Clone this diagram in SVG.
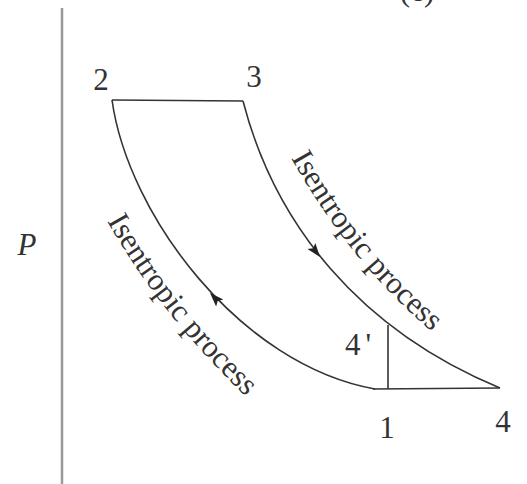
<svg xmlns="http://www.w3.org/2000/svg" xmlns:xlink="http://www.w3.org/1999/xlink" width="527" height="484" viewBox="0 0 527 484">
<style>
.ln{fill:none;stroke:#333;stroke-width:1.6}
.ax{fill:none;stroke:#999;stroke-width:2.5}
.lb{font-family:"Liberation Serif","Times New Roman",serif;font-size:31px;fill:#333}
.ah{fill:#222;stroke:none}
</style>
<defs>
<path id="ahd" d="M0,0 L-14,-5 L-11,0 L-14,5 Z"/>
<path id="tp1" d="M291,158 C331,228 376,285 437,336"/>
<path id="tp2" d="M107,221 C147,291 196,350 254,404"/>
</defs>
<rect width="527" height="484" fill="#fff"/>
<g id="axis">
<line class="ax" x1="62" y1="8" x2="62" y2="484"/>
<text class="lb" x="27" y="255" text-anchor="middle" font-style="italic">P</text>
</g>
<text id="title" class="lb" x="417" y="1" text-anchor="middle">(c)</text>
<g id="connectors">
<path id="c23" class="ln" d="M112,100 L243,101"/>
<path id="c34" class="ln" d="M243,101 C275,225 360,330 500,388"/>
<path id="c41" class="ln" d="M500,388 L373,389"/>
<path id="c12" class="ln" d="M112,100 C128,215 240,365 375,389"/>
<line id="c14p" class="ln" x1="388" y1="389" x2="388" y2="325"/>
<use class="ah" xlink:href="#ahd" transform="translate(320,257) rotate(52)"/>
<use class="ah" xlink:href="#ahd" transform="translate(210,293) rotate(226)"/>
</g>
<g id="n2"><text class="lb" x="101" y="90" text-anchor="middle">2</text></g>
<g id="n3"><text class="lb" x="254" y="87" text-anchor="middle">3</text></g>
<g id="n4p"><text class="lb" x="345" y="355">4<tspan dx="5">'</tspan></text></g>
<g id="n1"><text class="lb" x="387" y="438" text-anchor="middle">1</text></g>
<g id="n4"><text class="lb" x="503" y="432" text-anchor="middle">4</text></g>
<g id="l1"><text class="lb"><textPath xlink:href="#tp1">Isentropic process</textPath></text></g>
<g id="l2"><text class="lb"><textPath xlink:href="#tp2">Isentropic process</textPath></text></g>
</svg>
